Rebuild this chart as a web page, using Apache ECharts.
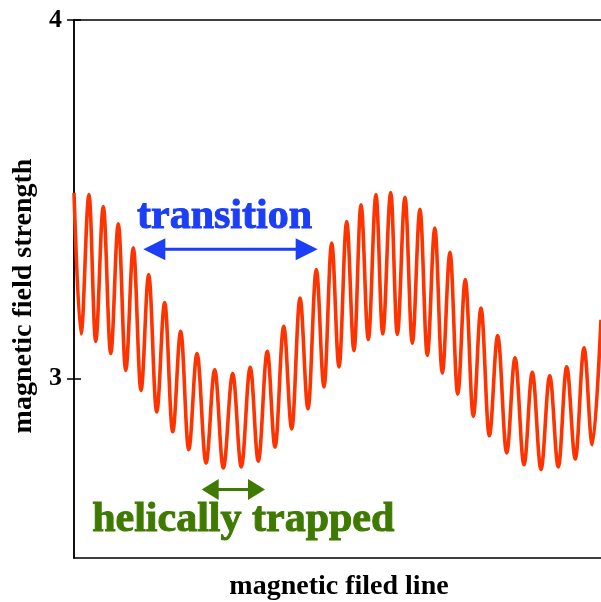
<!DOCTYPE html>
<html>
<head>
<meta charset="utf-8">
<script src="https://cdn.jsdelivr.net/npm/echarts@6/dist/echarts.min.js"></script>
<style>
  html, body { margin: 0; padding: 0; background: #fff; }
  #chart { width: 601px; height: 602px; }
</style>
</head>
<body>
<div id="chart"></div>
<script>
// Position along the field line (0-100) of each local maximum / minimum of |B|
const positions = [
  0.00, 1.32, 2.83, 4.09, 5.53, 6.93, 8.36, 9.76, 11.19, 12.64,
  14.09, 15.60, 17.11, 18.62, 20.13, 21.64, 23.21, 24.91, 26.55, 28.17,
  29.94, 31.57, 33.25, 34.77, 36.47, 37.93, 39.57, 41.08, 42.64, 44.15,
  45.72, 47.17, 48.62, 50.00, 51.45, 52.83, 54.15, 55.53, 56.98, 58.25,
  59.76, 61.00, 62.45, 63.83, 65.28, 66.66, 68.08, 69.49, 70.94, 72.40,
  73.83, 75.34, 76.79, 78.36, 79.94, 81.64, 83.21, 84.91, 86.47, 88.11,
  89.76, 91.38, 92.96, 94.59, 96.23, 97.79, 99.43
];
// Magnetic field strength at those extrema
const fieldStrength = [
  3.518, 3.125, 3.513, 3.104, 3.480, 3.070, 3.432, 3.023, 3.365, 2.967,
  3.290, 2.907, 3.212, 2.852, 3.132, 2.802, 3.070, 2.765, 3.025, 2.751,
  3.014, 2.754, 3.032, 2.770, 3.076, 2.809, 3.146, 2.860, 3.225, 2.916,
  3.304, 2.977, 3.378, 3.033, 3.438, 3.078, 3.485, 3.109, 3.513, 3.125,
  3.519, 3.123, 3.506, 3.099, 3.472, 3.065, 3.420, 3.016, 3.352, 2.957,
  3.276, 2.895, 3.197, 2.841, 3.120, 2.793, 3.058, 2.760, 3.018, 2.747,
  3.008, 2.754, 3.033, 2.776, 3.086, 2.816, 3.164
];
const yTickValues = [3, 4];

// Annotation anchors in data coordinates
const transitionSpan = [13.08, 45.98];
const transitionLevel = 3.361;
const transitionText = { label: 'transition', x: 28.40, y: 3.450 };
const trappedSpan = [24.09, 36.04];
const trappedLevel = 2.691;
const trappedText = { label: 'helically trapped', x: 31.94, y: 2.605 };

const SERIF = '"Liberation Serif", "Times New Roman", Times, serif';
const BLUE = '#1b3ef6';
const GREEN = '#3f7a00';
const nameStyle = { fontFamily: SERIF, fontWeight: 'bold', fontSize: 28, color: '#000' };

const chart = echarts.init(document.getElementById('chart'), null, { renderer: 'canvas' });

const points = positions.map((p, i) => [p, fieldStrength[i]]);

chart.setOption({
  animation: false,
  backgroundColor: '#fff',
  // The frame runs slightly past the right edge of the page
  grid: { left: 74, top: 20, width: 530, height: 538, show: false, outerBoundsMode: 'none', containLabel: false },
  xAxis: [
    {
      type: 'value', min: 0, max: 100, position: 'bottom',
      axisLine: { show: true, lineStyle: { color: '#000', width: 1.5 } },
      axisTick: { show: false },
      axisLabel: { show: false },
      splitLine: { show: false },
      name: 'magnetic filed line',
      nameLocation: 'middle',
      nameGap: 15,
      nameTextStyle: nameStyle
    },
    {
      type: 'value', min: 0, max: 100, position: 'top',
      axisLine: { show: true, lineStyle: { color: '#000', width: 1.5 } },
      axisTick: { show: false },
      axisLabel: { show: false },
      splitLine: { show: false }
    }
  ],
  yAxis: [
    {
      type: 'value', min: 2.5, max: 4, interval: 0.5, position: 'left',
      axisLine: { show: true, lineStyle: { color: '#000', width: 1.5 } },
      axisTick: { show: true, inside: true, length: 7, customValues: yTickValues,
                  lineStyle: { color: '#000', width: 1.5 } },
      axisLabel: { show: true, customValues: yTickValues, margin: 12,
                   fontFamily: SERIF, fontWeight: 'bold', fontSize: 26, color: '#000' },
      splitLine: { show: false },
      name: 'magnetic field strength',
      nameLocation: 'middle',
      nameGap: 30,
      nameTextStyle: Object.assign({ padding: [0, 14, 0, 0] }, nameStyle)
    },
    {
      type: 'value', min: 2.5, max: 4, interval: 0.5, position: 'right',
      axisLine: { show: true, lineStyle: { color: '#000', width: 1.5 } },
      axisTick: { show: true, inside: true, length: 7, customValues: yTickValues,
                  lineStyle: { color: '#000', width: 1.5 } },
      axisLabel: { show: false },
      splitLine: { show: false }
    }
  ],
  series: [{
    type: 'line',
    data: points,
    showSymbol: false,
    smooth: 0.36,
    smoothMonotone: 'x',
    clip: true,
    lineStyle: { color: '#ff3300', width: 3.6 }
  }]
});

// Double-headed arrow between two data positions at a given field level
function doubleArrow(span, level, color, headLen, headHalf, width) {
  const a = chart.convertToPixel({ gridIndex: 0 }, [span[0], level]);
  const b = chart.convertToPixel({ gridIndex: 0 }, [span[1], level]);
  const y = a[1];
  return {
    type: 'group',
    children: [
      { type: 'line', shape: { x1: a[0] + headLen * 0.8, y1: y, x2: b[0] - headLen * 0.8, y2: y },
        style: { stroke: color, lineWidth: width } },
      { type: 'polygon', shape: { points: [[a[0], y], [a[0] + headLen, y - headHalf], [a[0] + headLen, y + headHalf]] },
        style: { fill: color } },
      { type: 'polygon', shape: { points: [[b[0], y], [b[0] - headLen, y - headHalf], [b[0] - headLen, y + headHalf]] },
        style: { fill: color } }
    ]
  };
}

// Heavy bold caption, thickened with a thin outline of the same colour
function label(t, color) {
  const p = chart.convertToPixel({ gridIndex: 0 }, [t.x, t.y]);
  return {
    type: 'text', x: p[0], y: p[1],
    style: {
      text: t.label, fill: color, stroke: color, lineWidth: 1,
      fontFamily: SERIF, fontWeight: 'bold', fontSize: 42,
      align: 'center', verticalAlign: 'middle'
    }
  };
}

chart.setOption({
  graphic: [
    doubleArrow(transitionSpan, transitionLevel, BLUE, 22, 11, 3),
    label(transitionText, BLUE),
    doubleArrow(trappedSpan, trappedLevel, GREEN, 17, 10.5, 3),
    label(trappedText, GREEN)
  ]
});
</script>
</body>
</html>
